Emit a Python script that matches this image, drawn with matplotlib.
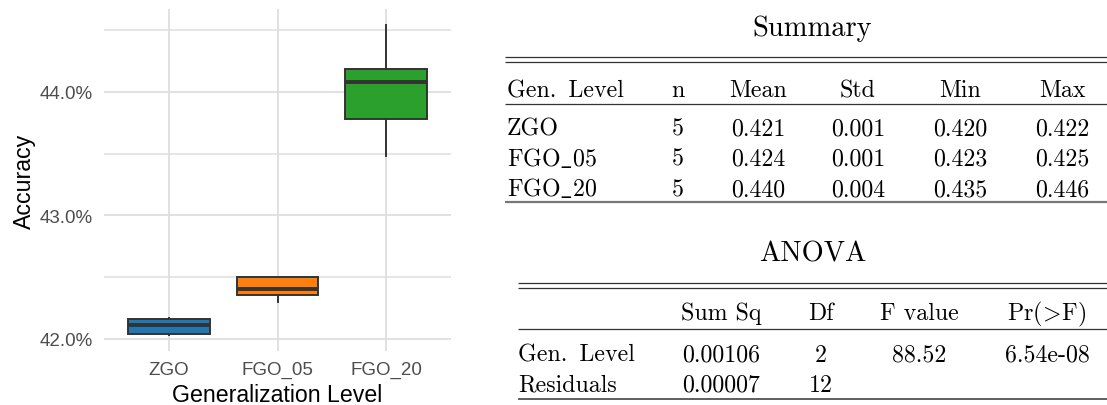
import matplotlib.pyplot as plt
from matplotlib.ticker import FuncFormatter, MultipleLocator

# box statistics (accuracy as a fraction)
levels = ["ZGO", "FGO_05", "FGO_20"]
whislo = [0.42027, 0.42297, 0.43484]
q1 = [0.42035, 0.42351, 0.43781]
med = [0.42108, 0.42405, 0.44079]
q3 = [0.42162, 0.42504, 0.44181]
whishi = [0.42170, 0.42504, 0.44545]
box_colors = ["#1f77b4", "#ff7f0e", "#2ca02c"]

# summary table
sum_header = ["Gen.\u2002Level", "n", "Mean", "Std", "Min", "Max"]
sum_n = [5, 5, 5]
sum_mean = [0.421, 0.424, 0.440]
sum_std = [0.001, 0.001, 0.004]
sum_min = [0.420, 0.423, 0.435]
sum_max = [0.422, 0.425, 0.446]

# anova table
aov_header = ["", "Sum Sq", "Df", "F value", "Pr(>F)"]
aov_terms = ["Gen.\u2002Level", "Residuals"]
aov_sumsq = [0.00106, 0.00007]
aov_df = [2, 12]
aov_f = [88.52, None]
aov_p = [6.54e-08, None]

plt.rcParams["mathtext.fontset"] = "cm"
W, H = 1107, 406
fig = plt.figure(figsize=(W / 100, H / 100), dpi=100)

# ---- boxplot ----
ax = fig.add_axes([104 / W, 1 - 352 / H, 347 / W, 342 / H])
stats = [dict(whislo=a, q1=b, med=c, q3=d, whishi=e, label=l)
         for a, b, c, d, e, l in zip(whislo, q1, med, q3, whishi, levels)]
bp = ax.bxp(stats, positions=[1, 2, 3], widths=0.75, patch_artist=True,
            showfliers=False, showcaps=False,
            boxprops=dict(edgecolor="#333333", linewidth=1.4),
            whiskerprops=dict(color="#333333", linewidth=1.4),
            medianprops=dict(color="#333333", linewidth=2.8, solid_capstyle="butt"))
for patch, c in zip(bp["boxes"], box_colors):
    patch.set_facecolor(c)

lo, hi = min(whislo), max(whishi)
pad = 0.05 * (hi - lo)
ax.set_ylim(lo - pad, hi + pad)
ax.set_xlim(0.4, 3.6)
ax.yaxis.set_major_locator(MultipleLocator(0.01))
ax.yaxis.set_minor_locator(MultipleLocator(0.005))
ax.yaxis.set_major_formatter(FuncFormatter(lambda v, p: f"{v * 100:.1f}%"))
ax.set_axisbelow(True)
ax.grid(True, which="major", color="#dedede", linewidth=1.3)
ax.grid(True, which="minor", axis="y", color="#dedede", linewidth=1.1)
for s in ax.spines.values():
    s.set_visible(False)
ax.tick_params(which="both", length=0)
ax.tick_params(axis="y", pad=8)
ax.tick_params(axis="x", pad=7)
for lab in ax.get_xticklabels() + ax.get_yticklabels():
    lab.set_family("Liberation Sans")
    lab.set_fontsize(13.5)
    lab.set_color("#4d4d4d")
ax.set_xlabel("Generalization Level", family="Liberation Sans", fontsize=16.7, labelpad=3.5)
ax.set_ylabel("Accuracy", family="Liberation Sans", fontsize=16.7, labelpad=3)

# ---- tables ----
tab = fig.add_axes([0, 0, 1, 1])
tab.set_axis_off()
tab.set_xlim(0, W)
tab.set_ylim(H, 0)
serif = ["cmr10", "DejaVu Serif"]


def tex(s):
    return s.replace("_", r"$\_$").replace(">", r"$\!>\!$")


def put(x, y, s, ha="center", size=17.2):
    tab.text(x, y, tex(s), ha=ha, va="baseline", fontsize=size, family=serif)


def rule(y, x0, lw=0.9, color="#333333"):
    tab.plot([x0, W], [y, y], color=color, lw=lw, solid_capstyle="butt")


# Summary
sum_x = [507, 678, 758, 858, 960, 1062]
put(812, 36.5, "Summary", size=20.5)
rule(57.7, 505)
rule(63.3, 505)
for i, h in enumerate(sum_header):
    put(sum_x[i], 97.3, h, ha="left" if i == 0 else "center")
rule(105, 505)
for r, lev in enumerate(levels):
    y = 135.7 + 30.2 * r
    cells = [lev, str(sum_n[r]), f"{sum_mean[r]:.3f}", f"{sum_std[r]:.3f}",
             f"{sum_min[r]:.3f}", f"{sum_max[r]:.3f}"]
    for i, c in enumerate(cells):
        put(sum_x[i], y, c, ha="left" if i == 0 else "center")
rule(202.7, 505, lw=1.6, color="#777777")

# ANOVA
aov_x = [518, 721, 821, 919, 1047]
put(813, 262, "ANOVA", size=20.5)
rule(284, 518)
rule(289, 518)
for i, h in enumerate(aov_header):
    put(aov_x[i], 320, h, ha="left" if i == 0 else "center")
rule(330, 518)
for r, term in enumerate(aov_terms):
    y = 361.7 + 30 * r
    cells = [term, f"{aov_sumsq[r]:.5f}", str(aov_df[r]),
             "" if aov_f[r] is None else f"{aov_f[r]:.2f}",
             "" if aov_p[r] is None else f"{aov_p[r]:.2e}"]
    for i, c in enumerate(cells):
        put(aov_x[i], y, c, ha="left" if i == 0 else "center")
rule(400, 518, lw=1.1)

fig.savefig("out.png", dpi=100)
